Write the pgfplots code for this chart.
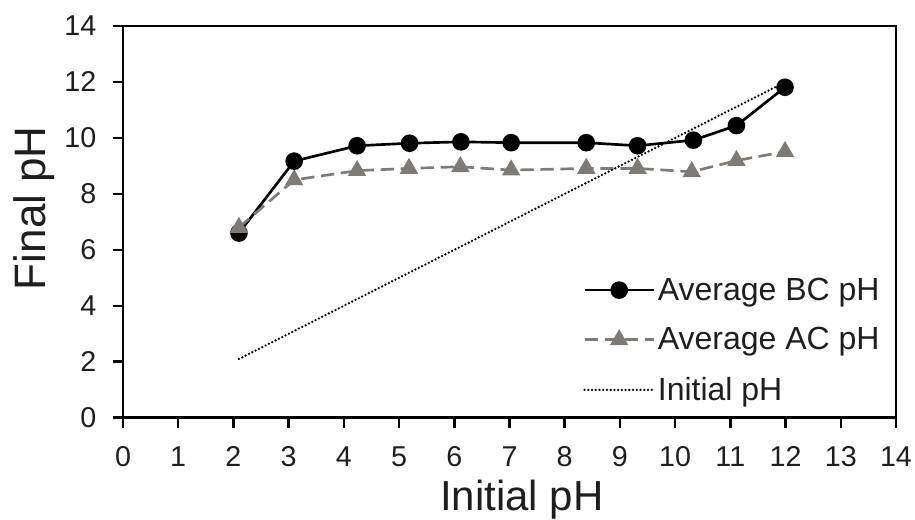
\documentclass[border=0pt]{standalone}
\usepackage{fontspec}
\setmainfont{Liberation Sans}
\usepackage{pgfplots}
\pgfplotsset{compat=1.18}
\definecolor{acgray}{RGB}{128,122,118}
\definecolor{txt}{RGB}{30,30,30}
\begin{document}
\begin{tikzpicture}
\begin{axis}[
  at={(0,0)}, anchor=south west,
  scale only axis, width=579.75pt, height=293.8pt,
  xmin=0, xmax=14, ymin=0, ymax=14,
  xtick={0,...,14}, ytick={0,2,...,14},
  tick align=outside, tick pos=left, major tick length=7.5pt,
  axis line style={line width=1.9pt, black},
  tick style={line width=1.9pt, black},
  xlabel={Initial pH}, ylabel={Final pH},
  every axis x label/.style={at={(axis description cs:0.516,-0.158)}, anchor=north, inner sep=0pt,
    font=\fontsize{31.5}{31.5}\selectfont, text=txt},
  every axis y label/.style={at={(axis description cs:-0.1423,0.535)}, rotate=90, anchor=north, inner sep=0pt,
    font=\fontsize{33}{33}\selectfont, text=txt},
  tick label style={font=\fontsize{21.5}{21.5}\selectfont, text=txt},
  xticklabel style={yshift=-10.5pt},
  yticklabel style={xshift=-9pt},
  /pgf/number format/assume math mode=true,
  legend style={draw=none, fill=none, font=\fontsize{24}{24}\selectfont, text=txt,
    at={(axis cs:8.33,5.1)}, anchor=north west, inner sep=0pt, row sep=15pt},
  legend cell align=left,
  legend image code/.code={\draw[mark repeat=2,mark phase=2,#1] plot coordinates {(0pt,0pt) (26pt,0pt) (52pt,0pt)};},
]
\addplot[black, line width=2pt, mark=*, mark size=5.6pt, mark options={solid, fill=black}]
  coordinates {(2.1,6.6) (3.1,9.17) (4.24,9.72) (5.19,9.81) (6.12,9.86) (7.03,9.83) (8.39,9.83) (9.32,9.72) (10.33,9.92) (11.11,10.44) (11.99,11.81)};
\addlegendentry{Average BC pH}
\addplot[acgray, line width=2pt, dash pattern=on 10pt off 5pt, mark=triangle*, mark size=6pt, mark options={solid, fill=acgray}]
  coordinates {(2.1,6.8) (3.1,8.5) (4.24,8.83) (5.18,8.91) (6.11,8.97) (7.03,8.85) (8.39,8.91) (9.32,8.91) (10.3,8.79) (11.11,9.19) (11.99,9.51)};
\addlegendentry{Average AC pH}
\addplot[black, line width=1.9pt, dash pattern=on 0pt off 2.8pt, line cap=round]
  coordinates {(2.1,2.1) (3.1,3.1) (4.24,4.24) (5.18,5.18) (6.11,6.11) (7.03,7.03) (8.39,8.39) (9.32,9.32) (10.3,10.3) (11.11,11.11) (11.99,11.99)};
\addlegendentry{Initial pH}
\end{axis}
\pgfresetboundingbox
\path[use as bounding box] (-92.25pt,-76.7pt) rectangle (594pt,313.3pt);
\end{tikzpicture}
\end{document}
